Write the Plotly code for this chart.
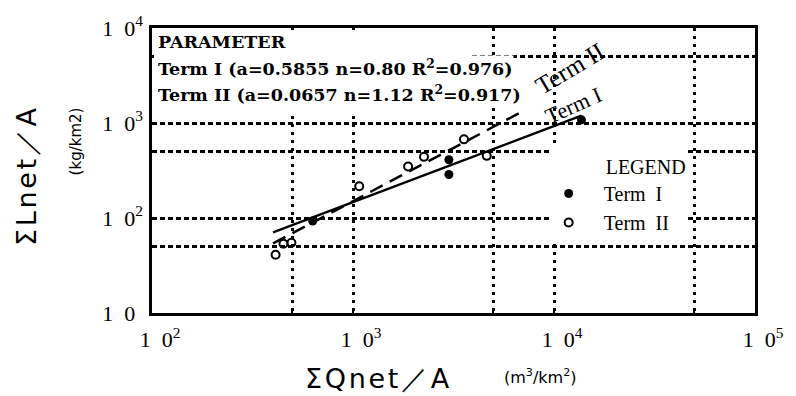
import numpy as np
import plotly.graph_objects as go

# ---- data ----
q_term1 = [630, 3000, 3000, 13700]
l_term1 = [93, 287, 410, 1080]

q_term2 = [412, 451, 494, 1074, 1880, 2255, 3565, 4630]
l_term2 = [41, 53.5, 55, 216, 348, 440, 673, 451]

fit1_a, fit1_n, fit1_r2 = 0.5855, 0.80, 0.976
fit2_a, fit2_n, fit2_r2 = 0.0657, 1.12, 0.917
fit1_qrange = [400, 13700]
fit2_qrange = [400, 7000]

NB = "\u00a0"
TEN = "1" + NB * 2 + "0"
x_tickvals = [100, 500, 1000, 5000, 10000, 50000, 100000]
x_ticktext = [TEN + "<sup>2</sup>", "", TEN + "<sup>3</sup>", "", TEN + "<sup>4</sup>", "", TEN + "<sup>5</sup>"]
y_tickvals = [10, 50, 100, 500, 1000, 5000, 10000]
y_ticktext = [TEN + "<sup>" + NB * 2 + "</sup>", "", TEN + "<sup>2</sup>", "", TEN + "<sup>3</sup>", "", TEN + "<sup>4</sup>"]

SERIF = "Liberation Serif"
PSERIF = "DejaVu Serif"
SANS = "DejaVu Sans"
HS = "\u200a"  # hair space for letter spacing of axis titles


def spaced(s):
    return HS.join(list(s))


fig = go.Figure()

# fitted regression lines  L = a * Q^n
q1 = np.geomspace(fit1_qrange[0], fit1_qrange[1], 60)
q2 = np.geomspace(fit2_qrange[0], fit2_qrange[1], 60)
fig.add_trace(go.Scatter(x=q1, y=fit1_a * q1 ** fit1_n, mode="lines",
                         line=dict(color="black", width=2.5), showlegend=False, hoverinfo="skip"))
fig.add_trace(go.Scatter(x=q2, y=fit2_a * q2 ** fit2_n, mode="lines",
                         line=dict(color="black", width=2.5, dash="14px,8px"), showlegend=False, hoverinfo="skip"))

fig.add_trace(go.Scatter(x=q_term1, y=l_term1, mode="markers", name=NB * 3 + "Term" + NB * 2 + "I",
                         marker=dict(symbol="circle", size=9, color="black")))
fig.add_trace(go.Scatter(x=q_term2, y=l_term2, mode="markers", name=NB * 3 + "Term" + NB * 2 + "II",
                         marker=dict(symbol="circle-open", size=8, color="black", line=dict(width=2))))

axis_common = dict(type="log", showline=True, linecolor="black", linewidth=2.5, mirror=True,
                   ticks="inside", ticklen=5, tickwidth=2, tickcolor="black",
                   showgrid=True, gridcolor="black", zeroline=False,
                   tickfont=dict(family=SERIF, size=22, color="black"))

fig.update_xaxes(**axis_common, range=[2, 5], tickvals=x_tickvals, ticktext=x_ticktext,
                 gridwidth=3, griddash="3px,5px", ticklabelshift=8, ticklabelstandoff=5)
fig.update_yaxes(**axis_common, range=[1, 4], tickvals=y_tickvals, ticktext=y_ticktext,
                 gridwidth=2.5, griddash="5px,3px", ticklabelstandoff=2)

param_lines = [
    "PARAMETER",
    f"Term I (a={fit1_a:.4f} n={fit1_n:.2f} R<sup>2</sup>={fit1_r2:.3f})",
    f"Term II (a={fit2_a:.4f} n={fit2_n:.2f} R<sup>2</sup>={fit2_r2:.3f})",
]
param_yshift = [-3, -27, -53]

annotations = []
for txt, ys in zip(param_lines, param_yshift):
    annotations.append(dict(text=f"<b>{txt}</b>", xref="paper", yref="paper", x=0, y=1,
                            xanchor="left", yanchor="top", xshift=5, yshift=ys, align="left",
                            showarrow=False, bgcolor="white", borderpad=0,
                            font=dict(family=PSERIF, size=17.5, color="black")))

annotations += [
    # line labels, anchored on fitted lines
    dict(text="Term\u00a0I", x=np.log10(12500), y=np.log10(fit1_a * 12500 ** fit1_n), yshift=13,
         showarrow=False, textangle=-24, font=dict(family=SERIF, size=22, color="black")),
    dict(text="Term\u00a0II", x=np.log10(12000), y=np.log10(fit2_a * 12000 ** fit2_n), yshift=18,
         showarrow=False, textangle=-31, font=dict(family=SERIF, size=25, color="black")),
    # axis titles
    dict(text=spaced("\u03a3Lnet\uff0fA"), xref="paper", yref="paper", x=-0.208, y=0.479,
         xanchor="center", yanchor="middle",
         showarrow=False, textangle=-90, font=dict(family=SANS, size=27, color="black")),
    dict(text="(kg/km2)", xref="paper", yref="paper", x=-0.1256, y=0.603,
         xanchor="center", yanchor="middle",
         showarrow=False, textangle=-90, font=dict(family=SANS, size=15, color="black")),
    dict(text=spaced("\u03a3Qnet\uff0fA"), xref="paper", yref="paper", x=0.374, y=-0.229,
         xanchor="center", yanchor="middle",
         showarrow=False, font=dict(family=SANS, size=27, color="black")),
    dict(text="(m<sup>3</sup>/km<sup>2</sup>)", xref="paper", yref="paper", x=0.645, y=-0.222,
         xanchor="center", yanchor="middle",
         showarrow=False, font=dict(family=SANS, size=16, color="black")),
]

# white panel behind the parameter block (hides grid there, as in the reference)
shapes = [dict(type="rect", xref="paper", yref="paper", x0=2 / 605, x1=(470 - 152) / 605,
               y0=(313 - 110) / 292, y1=1 - 2 / 292, fillcolor="white", line=dict(width=0),
               layer="above")]

fig.update_layout(
    width=796, height=396,
    margin=dict(l=152, r=39, t=21, b=83),
    paper_bgcolor="white", plot_bgcolor="white",
    annotations=annotations,
    shapes=shapes,
    showlegend=True,
    legend=dict(x=(550 - 152) / 605, y=(313 - 144) / 292, xanchor="left", yanchor="top",
                bgcolor="white", font=dict(family=SERIF, size=20, color="black"),
                title=dict(text=NB * 11 + "LEGEND",
                           font=dict(family=SERIF, size=20, color="black")),
                tracegroupgap=0),
)

fig.write_html("out.html")
